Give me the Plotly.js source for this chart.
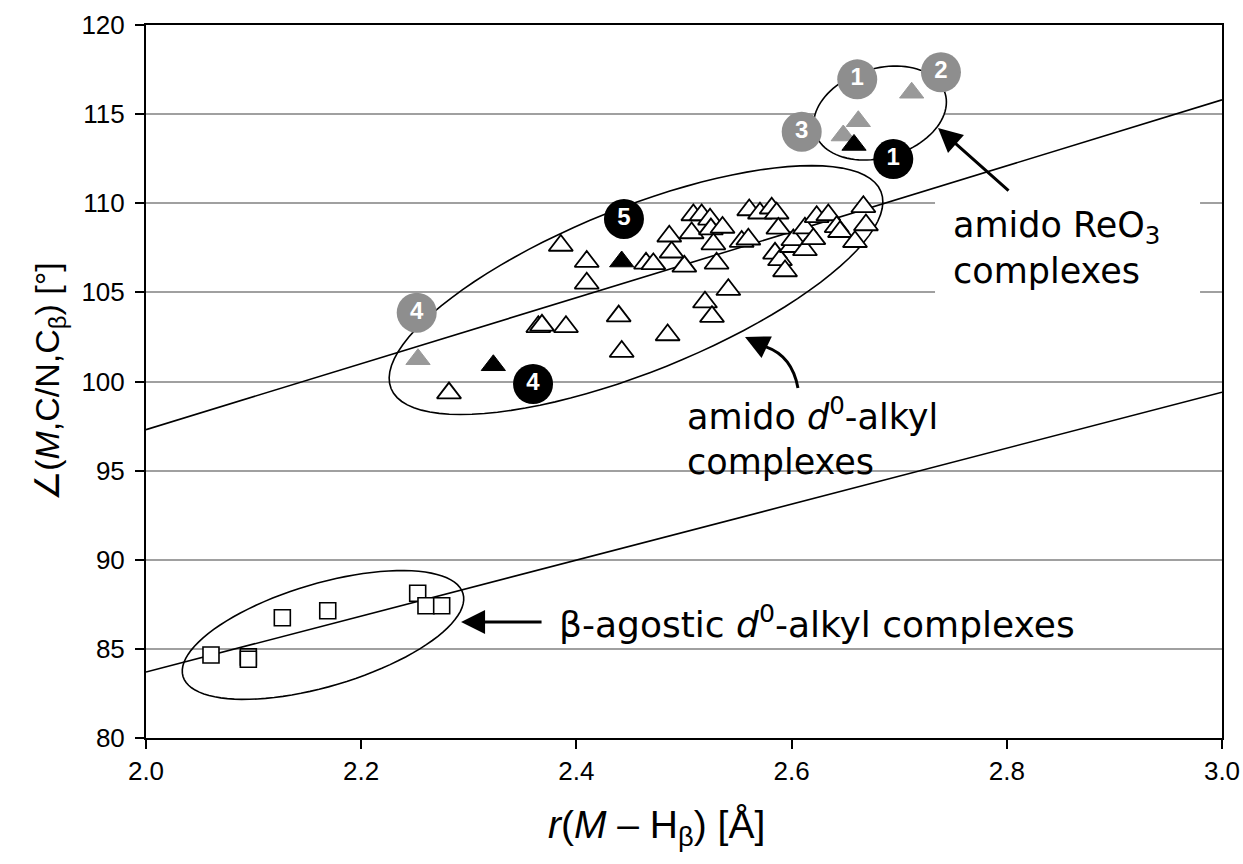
<!DOCTYPE html>
<html>
<head>
<meta charset="utf-8">
<script src="https://cdn.plot.ly/plotly-3.0.1.min.js"></script>
<style>html,body{margin:0;padding:0;background:#fff;}#chart{width:1243px;height:864px;}</style>
</head>
<body>
<div id="chart"></div>
<script>
// ---- data ----
const openTriX = [2.2816,2.3855,2.4096,2.4096,2.3646,2.3680,2.3903,2.4393,2.4421,2.4647,2.4715,2.4848,2.5195,2.5260,2.5412,2.5003,2.4885,2.4863,2.5071,2.5087,2.5164,2.5242,2.5250,2.5358,2.5273,2.5303,2.5536,2.5598,2.5606,2.5706,2.5815,2.5861,2.5877,2.5846,2.5892,2.5939,2.6001,2.6016,2.6124,2.6124,2.6202,2.6233,2.6341,2.6419,2.6450,2.6589,2.6667,2.6691];
const openTriY = [99.35,107.63,106.73,105.51,103.07,103.15,103.07,103.67,101.68,106.63,106.60,102.61,104.45,103.64,105.15,106.46,107.25,108.15,108.33,109.34,109.34,109.10,108.55,108.64,107.71,106.63,107.85,107.98,109.62,109.44,109.72,109.44,108.59,107.19,106.82,106.20,107.56,107.94,107.38,108.60,108.00,109.24,109.34,108.68,108.40,107.84,109.80,108.78];
const blackTriX = [2.3228,2.4421,2.6580];
const blackTriY = [100.91,106.73,113.27];
const grayTriX = [2.2528,2.6620,2.6480,2.7116];
const grayTriY = [101.25,114.60,113.80,116.20];
const squareX = [2.0604,2.0951,2.0951,2.1267,2.1689,2.2525,2.2602,2.2748];
const squareY = [84.66,84.55,84.42,86.75,87.14,88.12,87.42,87.42];
const grayLabelX = [2.6610,2.7388,2.6094,2.2516];
const grayLabelY = [116.95,117.35,114.01,103.86];
const grayLabelText = ['1','2','3','4'];
const blackLabelX = [2.6945,2.4442,2.3597];
const blackLabelY = [112.48,109.12,99.86];
const blackLabelText = ['1','5','4'];
const fitX = [2.0,3.0];
const fitUpperY = [97.3,115.8];
const fitLowerY = [83.7,99.4];
const xTicks = [2.0,2.2,2.4,2.6,2.8,3.0];
const yTicks = [80,85,90,95,100,105,110,115,120];

// ---- geometry helpers ----
const W = 1243, H = 864;
const M = {l:146, r:21, t:25, b:126};
const XR = [2.0,3.0], YR = [80,120];
const PX_X = (W - M.l - M.r) / (XR[1]-XR[0]);
const PX_Y = (H - M.t - M.b) / (YR[1]-YR[0]);
function ellipsePath(cx, cy, a, b, deg){
  const t = deg*Math.PI/180; let d = '';
  for (let i=0;i<=96;i++){
    const p = i/96*2*Math.PI;
    const ex = a*Math.cos(p)*Math.cos(t) - b*Math.sin(p)*Math.sin(t);
    const ey = a*Math.cos(p)*Math.sin(t) + b*Math.sin(p)*Math.cos(t);
    d += (i? 'L':'M') + (cx + ex/PX_X).toFixed(5) + ',' + (cy + ey/PX_Y).toFixed(5);
  }
  return d + 'Z';
}

const FONT = '"Liberation Sans", Arial, Helvetica, sans-serif';
const AFONT = '"DejaVu Sans", "Liberation Sans", sans-serif';
const GRAY = '#8e8e8e';

const traces = [
  {x:fitX, y:fitUpperY, mode:'lines', line:{color:'#000', width:1.6}, hoverinfo:'skip'},
  {x:fitX, y:fitLowerY, mode:'lines', line:{color:'#000', width:1.6}, hoverinfo:'skip'},
  {x:squareX, y:squareY, mode:'markers', marker:{symbol:'square', size:16, color:'#fff', line:{color:'#000', width:1.6}}},
  {x:openTriX, y:openTriY, mode:'markers', marker:{symbol:'triangle-up', size:21, color:'#fff', line:{color:'#000', width:1.8}}},
  {x:grayTriX, y:grayTriY, mode:'markers', marker:{symbol:'triangle-up', size:21, color:'#999999', line:{color:'#999999', width:1}}},
  {x:blackTriX, y:blackTriY, mode:'markers', marker:{symbol:'triangle-up', size:21, color:'#000', line:{color:'#000', width:1}}},
  {x:grayLabelX, y:grayLabelY, text:grayLabelText, mode:'markers+text', textposition:'middle center',
   textfont:{family:FONT, size:24, color:'#fff', weight:'bold'}, marker:{size:40, color:GRAY, line:{width:0}}},
  {x:blackLabelX, y:blackLabelY, text:blackLabelText, mode:'markers+text', textposition:'middle center',
   textfont:{family:FONT, size:24, color:'#fff', weight:'bold'}, marker:{size:40, color:'#000', line:{width:0}}}
];

const shapes = [
  {type:'rect', xref:'x', yref:'y', x0:2.7333, x1:2.9796, y0:104.5, y1:110.45, fillcolor:'#fff', line:{width:0}, layer:'between'},
  {type:'path', xref:'x', yref:'y', path:ellipsePath(2.4554,105.13,264,82,21.9), line:{color:'#000', width:1.6}, layer:'between'},
  {type:'path', xref:'x', yref:'y', path:ellipsePath(2.6822,115.06,68,44.6,16.8), fillcolor:'#fff', line:{color:'#000', width:1.6}, layer:'between'},
  {type:'path', xref:'x', yref:'y', path:ellipsePath(2.1645,85.78,146,51.4,16.5), line:{color:'#000', width:1.6}, layer:'between'},
  {type:'path', xref:'x', yref:'y', path:'M2.6059,99.64 Q2.6004,101.43 2.5762,101.94', line:{color:'#000', width:3}, layer:'above'}
];

const annotations = [
  {x:2.7481, y:107.5, xref:'x', yref:'y', xanchor:'left', yanchor:'middle', align:'left', showarrow:false,
   text:'amido ReO<sub>3</sub><br>complexes', font:{family:AFONT, size:35, color:'#000'}},
  {x:2.5009, y:96.9, xref:'x', yref:'y', xanchor:'left', yanchor:'middle', align:'left', showarrow:false,
   text:'amido <i>d</i><sup>0</sup>-alkyl<br>complexes', font:{family:AFONT, size:35, color:'#000'}},
  {x:2.382, y:86.5, xref:'x', yref:'y', xanchor:'left', yanchor:'middle', align:'left', showarrow:false,
   text:'β-agostic <i>d</i><sup>0</sup>-alkyl complexes', font:{family:AFONT, size:36, color:'#000'}},
  {x:2.7361, y:114.22, xref:'x', yref:'y', ax:72, ay:64, text:'', showarrow:true, arrowhead:2, arrowsize:1.6, arrowwidth:3, arrowcolor:'#000'},
  {x:2.2928, y:86.51, xref:'x', yref:'y', ax:82, ay:0, text:'', showarrow:true, arrowhead:2, arrowsize:1.6, arrowwidth:3, arrowcolor:'#000'},
  {x:2.5567, y:102.50, xref:'x', yref:'y', ax:21, ay:10, text:'', showarrow:true, arrowhead:2, arrowsize:1.6, arrowwidth:3, arrowcolor:'#000'},
  {x:0.4749, y:-0.1262, xref:'paper', yref:'paper', xanchor:'center', yanchor:'middle', showarrow:false,
   text:'<i>r</i>(<i>M</i> – H<sub>β</sub>) [Å]', font:{family:FONT, size:39, color:'#000'}}
];

const layout = {
  width:W, height:H, margin:M, showlegend:false,
  paper_bgcolor:'#fff', plot_bgcolor:'#fff',
  font:{family:FONT, size:26, color:'#000'},
  xaxis:{range:XR, tickvals:xTicks, ticktext:xTicks.map(v=>v.toFixed(1)), showgrid:false, zeroline:false,
    showline:true, linecolor:'#000', linewidth:2, mirror:true, ticks:'outside', ticklen:9, tickwidth:2, tickcolor:'#000',
    tickfont:{family:FONT, size:26, color:'#000'}},
  yaxis:{range:YR, tickvals:yTicks, showgrid:true, gridcolor:'#a0a0a0', gridwidth:2, zeroline:false,
    showline:true, linecolor:'#000', linewidth:2, mirror:true, ticks:'outside', ticklen:9, tickwidth:2, tickcolor:'#000',
    ticklabelstandoff:5,
    tickfont:{family:FONT, size:26, color:'#000'},
    title:{text:'∠(<i>M</i>,C/N,C<sub>β</sub>) [°]', font:{family:FONT, size:34, color:'#000'}, standoff:12}},
  shapes:shapes, annotations:annotations
};

Plotly.newPlot('chart', traces, layout, {displayModeBar:false, staticPlot:true});
</script>
</body>
</html>
